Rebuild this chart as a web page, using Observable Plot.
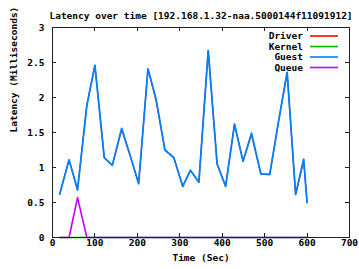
<!DOCTYPE html>
<html>
<head>
<meta charset="utf-8">
<script src="https://cdn.jsdelivr.net/npm/d3@7"></script>
<script src="https://cdn.jsdelivr.net/npm/@observablehq/plot@0.6"></script>
<style>
  html, body { margin: 0; padding: 0; background: white; }
  #chart { width: 359px; height: 269px; }
</style>
</head>
<body>
<div id="chart"></div>
<script>
const title = "Latency over time [192.168.1.32-naa.5000144f11091912]";
const xLabel = "Time (Sec)";
const yLabel = "Latency (Milliseconds)";
const xTicks = [0, 100, 200, 300, 400, 500, 600, 700];
const yTicks = [0, 0.5, 1, 1.5, 2, 2.5, 3];

const times  = [17, 39, 59, 81, 100, 122, 141, 163, 183, 203, 225, 244, 265, 286, 307, 325, 345, 367, 388, 408, 429, 449, 469, 491, 512, 532, 553, 573, 592, 600];
const guest  = [0.62, 1.11, 0.68, 1.89, 2.46, 1.14, 1.03, 1.56, 1.17, 0.77, 2.41, 1.98, 1.25, 1.14, 0.73, 0.96, 0.79, 2.67, 1.05, 0.73, 1.62, 1.09, 1.49, 0.91, 0.90, 1.63, 2.36, 0.62, 1.12, 0.50];
const driver = [0.62, 1.11, 0.68, 1.89, 2.46, 1.14, 1.03, 1.54, 1.17, 0.77, 2.41, 1.96, 1.25, 1.14, 0.73, 0.96, 0.79, 2.67, 1.05, 0.73, 1.62, 1.09, 1.47, 0.91, 0.90, 1.63, 2.36, 0.61, 1.09, 0.50];
const kernel = [0, 0, 0, 0, 0, 0, 0, 0, 0, 0, 0, 0, 0, 0, 0, 0, 0, 0, 0, 0, 0, 0, 0, 0, 0, 0, 0, 0, 0, 0];
const queue  = [0, 0, 0.57, 0, 0, 0, 0, 0, 0, 0, 0, 0, 0, 0, 0, 0, 0, 0, 0, 0, 0, 0, 0, 0, 0, 0, 0, 0, 0, 0];

const seriesNames  = ["Driver", "Kernel", "Guest", "Queue"];
const seriesColors = ["#ff0000", "#00c000", "#0080ff", "#c000ff"];
const seriesWidths = [1.2, 1.6, 1.8, 1.6];
const seriesValues = [driver, kernel, guest, queue];

const rows = [];
seriesNames.forEach((name, s) => {
  times.forEach((t, i) => rows.push({series: name, t, v: seriesValues[s][i]}));
});

const font = "'DejaVu Sans Mono', monospace";
const fmt = d => String(d);

const lineMarks = seriesNames.map((name, s) =>
  Plot.line(rows.filter(d => d.series === name), {x: "t", y: "v", stroke: seriesColors[s], strokeWidth: seriesWidths[s]})
);

const chart = Plot.plot({
  width: 359,
  height: 269,
  marginLeft: 52,
  marginRight: 10,
  marginTop: 27,
  marginBottom: 32,
  style: {fontFamily: font, fontWeight: "bold", fontSize: "9.5px", background: "white", color: "black"},
  x: {domain: [0, 700]},
  y: {domain: [0, 3]},
  marks: [
    ...lineMarks,
    Plot.frame({stroke: "#222"}),
    Plot.axisX({ticks: xTicks, tickSize: 0, tickPadding: 2, tickFormat: fmt, label: null}),
    Plot.axisY({ticks: yTicks, tickSize: 0, tickPadding: 8, tickFormat: fmt, label: null}),
    Plot.text([title], {frameAnchor: "top", dy: -15, text: d => d}),
    Plot.text([xLabel], {frameAnchor: "bottom", dy: 23, text: d => d}),
    Plot.text([yLabel], {frameAnchor: "left", dx: -39, rotate: -90, text: d => d})
  ]
});

const svg = d3.select(chart);
const sx = chart.scale("x"), sy = chart.scale("y");
const [x0, x1] = sx.range, [y0, y1] = sy.range; // y0 bottom, y1 top

// inward, mirrored tick marks (gnuplot style)
const tg = svg.append("g").attr("stroke", "#222").attr("stroke-width", 1);
xTicks.forEach(v => {
  const x = Math.round(sx.apply(v)) + 0.5;
  tg.append("line").attr("x1", x).attr("x2", x).attr("y1", y0).attr("y2", y0 - 4);
  tg.append("line").attr("x1", x).attr("x2", x).attr("y1", y1).attr("y2", y1 + 4);
});
yTicks.forEach(v => {
  const y = Math.round(sy.apply(v)) + 0.5;
  tg.append("line").attr("x1", x0).attr("x2", x0 + 4).attr("y1", y).attr("y2", y);
  tg.append("line").attr("x1", x1).attr("x2", x1 - 4).attr("y1", y).attr("y2", y);
});

// legend (gnuplot-style key, top right inside the frame)
const key = svg.append("g").attr("font-family", font).attr("font-weight", "bold").attr("font-size", "9.5px");
seriesNames.forEach((name, i) => {
  const y = 36 + i * 10.5;
  key.append("text").attr("x", 303).attr("y", y).attr("dy", "0.35em")
    .attr("text-anchor", "end").attr("fill", "black").text(name);
  key.append("line").attr("x1", 310).attr("x2", 338).attr("y1", y).attr("y2", y)
    .attr("stroke", seriesColors[i]).attr("stroke-width", 1.6);
});

document.getElementById("chart").appendChild(chart);
</script>
</body>
</html>
